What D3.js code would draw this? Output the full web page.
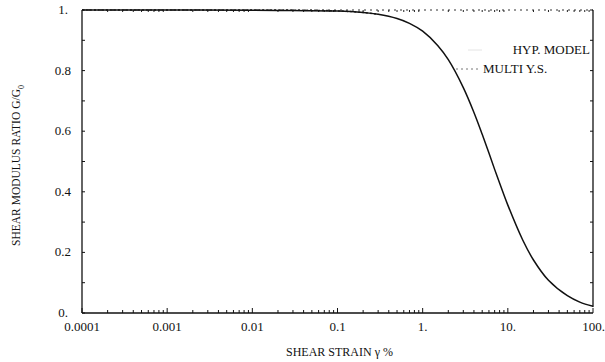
<!DOCTYPE html>
<html>
<head>
<meta charset="utf-8">
<script src="https://cdn.jsdelivr.net/npm/d3@7"></script>
<style>
  body { margin: 0; background: #fff; }
  text { font-family: "Liberation Serif", "DejaVu Serif", serif; fill: #111; }
</style>
</head>
<body>
<svg id="chart"></svg>
<script>
// values
var strain = [0.0001, 0.001, 0.01, 0.03, 0.1, 0.2, 0.3, 0.5, 0.7, 1, 1.5, 2, 3, 4, 5, 6, 7, 8, 10, 15, 20, 30, 50, 70, 100];
var hypRatio = [1.0, 1.0, 0.999, 0.998, 0.997, 0.992, 0.986, 0.972, 0.956, 0.93, 0.883, 0.836, 0.744, 0.662, 0.59, 0.528, 0.474, 0.429, 0.356, 0.24, 0.175, 0.108, 0.057, 0.036, 0.022];
var multiStrain = [0.0001, 0.01, 0.05, 0.1, 0.2, 0.3];
var multiRatio = [1.0, 1.0, 0.999, 0.997, 0.992, 0.986];
var xTicks = [0.0001, 0.001, 0.01, 0.1, 1, 10, 100];
var xTickLabels = ["0.0001", "0.001", "0.01", "0.1", "1.", "10.", "100."];
var yTicks = [0, 0.2, 0.4, 0.6, 0.8, 1];
var yTickLabels = ["0.", "0.2", "0.4", "0.6", "0.8", "1."];

var margin = {top: 10, right: 12, bottom: 49, left: 82};
var width = 605 - margin.left - margin.right;
var height = 362 - margin.top - margin.bottom;

var svg = d3.select("#chart")
    .attr("width", 605)
    .attr("height", 362)
    .append("g")
    .attr("transform", "translate(" + margin.left + "," + margin.top + ")");

var x = d3.scaleLog().domain([0.0001, 100]).range([0, width]);
var y = d3.scaleLinear().domain([0, 1]).range([height, 0]);

// minor ticks 2..9 in every decade
var minor = [];
xTicks.slice(0, -1).forEach(function(t) {
  for (var k = 2; k <= 9; k++) minor.push(t * k);
});

// bottom axis
svg.append("line")
  .attr("x1", 0).attr("x2", width).attr("y1", height).attr("y2", height)
  .attr("stroke", "#111").attr("stroke-width", 1.3);
svg.append("g").selectAll("line").data(minor).enter().append("line")
  .attr("x1", (d) => x(d)).attr("x2", (d) => x(d))
  .attr("y1", height).attr("y2", height - 3)
  .attr("stroke", "#111");
svg.append("g").selectAll("line").data(xTicks).enter().append("line")
  .attr("x1", (d) => x(d)).attr("x2", (d) => x(d))
  .attr("y1", height).attr("y2", height - 5)
  .attr("stroke", "#111");
svg.append("g").selectAll("text").data(xTicks).enter().append("text")
  .attr("x", (d) => x(d))
  .attr("y", height + 18)
  .attr("text-anchor", (d, i) => i == xTicks.length - 1 ? "end" : "middle")
  .attr("dx", (d, i) => i == xTicks.length - 1 ? 12 : 0)
  .style("font-size", "13px")
  .text((d, i) => xTickLabels[i]);

// top frame (broken in the scan, so dotted)
svg.append("line")
  .attr("x1", 0).attr("x2", width).attr("y1", 0).attr("y2", 0)
  .attr("stroke", "#333").attr("stroke-width", 1)
  .attr("stroke-dasharray", "2,4");
svg.append("g").selectAll("line").data(minor).enter().append("line")
  .attr("x1", (d) => x(d)).attr("x2", (d) => x(d))
  .attr("y1", 0).attr("y2", 2)
  .attr("stroke", "#222");

// left axis
svg.append("line")
  .attr("x1", 0).attr("x2", 0).attr("y1", 0).attr("y2", height)
  .attr("stroke", "#111").attr("stroke-width", 1.3);
svg.append("g").selectAll("line").data(d3.range(0, 1.01, 0.1)).enter().append("line")
  .attr("x1", 0).attr("x2", 3)
  .attr("y1", (d) => y(d)).attr("y2", (d) => y(d))
  .attr("stroke", "#111");
svg.append("g").selectAll("text").data(yTicks).enter().append("text")
  .attr("x", (d, i) => (i == 0 || i == yTicks.length - 1) ? -14 : -11)
  .attr("y", (d) => y(d) + 4)
  .attr("text-anchor", "end")
  .style("font-size", "13px")
  .text((d, i) => yTickLabels[i]);

// right frame
svg.append("line")
  .attr("x1", width).attr("x2", width).attr("y1", 0).attr("y2", height - 6)
  .attr("stroke", "#111").attr("stroke-width", 1.3);
svg.append("g").selectAll("line").data(d3.range(0.1, 1.01, 0.1)).enter().append("line")
  .attr("x1", width).attr("x2", width - 3)
  .attr("y1", (d) => y(d)).attr("y2", (d) => y(d))
  .attr("stroke", "#111");

// curves
var line = d3.line().curve(d3.curveCatmullRom)
  .x((d) => x(d[0]))
  .y((d) => y(d[1]));

svg.append("path")
  .datum(multiStrain.map((d, i) => [d, multiRatio[i]]))
  .attr("d", line)
  .attr("fill", "none")
  .attr("stroke", "#333")
  .attr("stroke-width", 1.5)
  .attr("stroke-dasharray", "2,2");

svg.append("path")
  .datum(strain.map((d, i) => [d, hypRatio[i]]))
  .attr("d", line)
  .attr("fill", "none")
  .attr("stroke", "#111")
  .attr("stroke-width", 1.5);

// legend
var legend = svg.append("g").attr("transform", "translate(" + (width - 125) + ",44)");
legend.append("line")
  .attr("x1", 0).attr("x2", 14).attr("y1", -4).attr("y2", -4)
  .attr("stroke", "#e4e4e4").attr("stroke-width", 1);
legend.append("text")
  .attr("x", 122).attr("y", 0)
  .attr("text-anchor", "end")
  .style("font-size", "13px")
  .text("HYP. MODEL");
legend.append("line")
  .attr("x1", -12).attr("x2", 12).attr("y1", 15).attr("y2", 15)
  .attr("stroke", "#777").attr("stroke-width", 1)
  .attr("stroke-dasharray", "2,3");
legend.append("text")
  .attr("x", 15).attr("y", 19)
  .style("font-size", "13px")
  .text("MULTI Y.S.");

// axis titles
svg.append("text")
  .attr("x", x(0.1) + 2)
  .attr("y", height + 43)
  .attr("text-anchor", "middle")
  .style("font-size", "12px")
  .text("SHEAR STRAIN γ %");

var yt = svg.append("text")
  .attr("transform", "translate(-62," + (y(0.5) + 4) + ") rotate(-90)")
  .attr("text-anchor", "middle")
  .style("font-size", "11.5px");
yt.append("tspan").text("SHEAR MODULUS RATIO G/G");
yt.append("tspan").attr("dy", 4).style("font-size", "8px").text("0");
</script>
</body>
</html>
